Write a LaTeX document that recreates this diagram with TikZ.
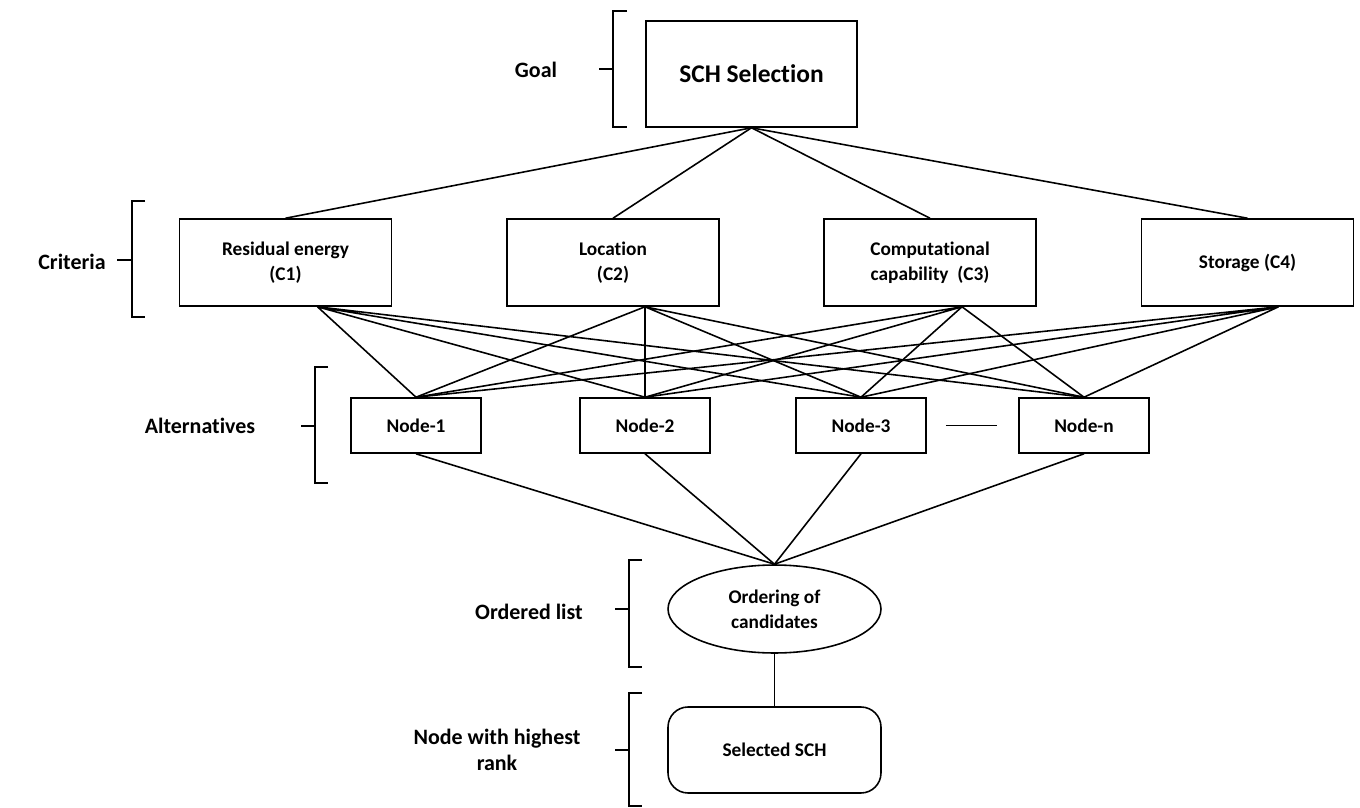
\documentclass[tikz,border=0pt]{standalone}
\usepackage{fontspec}
\setmainfont[Ligatures={NoCommon}]{Carlito}
\usetikzlibrary{shapes.geometric}
\begin{document}
\begin{tikzpicture}[
  x=0.02cm, y=-0.02cm, line width=0.9pt,
  crit/.style={draw, minimum width=4.24cm, minimum height=1.74cm, align=center, font=\bfseries\fontsize{11}{14}\selectfont},
  alt/.style={draw, minimum width=2.6cm, minimum height=1.1cm, font=\bfseries\fontsize{11}{14}\selectfont},
  lvl/.style={align=center, font=\bfseries\fontsize{12.5}{15}\selectfont}
]
\useasboundingbox (0,0) rectangle (1360,808);
% level labels
\node[lvl] (lgoal) at (536,70)  {Goal};
\node[lvl] (lcrit) at (72,262)  {Criteria};
\node[lvl] (lalt)  at (200,426) {Alternatives};
\node[lvl] (lord)  at (529,612) {Ordered list};
\node[lvl] (lsel)  at (497,750) {Node with highest\\rank};
% brackets
\draw (627,11) -| (613,127) -- (627,127);  \draw (599,69) -- (613,69);
\draw (145,201) -| (132,317) -- (145,317); \draw (117,260) -- (132,260);
\draw (328,367) -| (315,483) -- (328,483); \draw (301,426) -- (315,426);
\draw (642,560) -| (629,667) -- (642,667); \draw (615,609) -- (629,609);
\draw (642,693) -| (629,806) -- (642,806); \draw (615,750) -- (629,750);
% goal and criteria
\node[draw, minimum width=4.22cm, minimum height=2.12cm, font=\bfseries\fontsize{14.5}{17}\selectfont] (goal) at (751.5,74) {SCH Selection};
\node[crit] (c1) at (285.5,262.5) {Residual energy\\(C1)};
\node[crit] (c2) at (613,262.5)   {Location\\(C2)};
\node[crit] (c3) at (930,262.5)   {Computational\\capability~~(C3)};
\node[crit] (c4) at (1247.5,262.5) {Storage (C4)};
\draw (goal.south) -- (c1.north);
\draw (goal.south) -- (c2.north);
\draw (goal.south) -- (c3.north);
\draw (goal.south) -- (c4.north);
% alternatives
\node[alt] (n1) at (416,425.5)  {Node-1};
\node[alt] (n2) at (645,425.5)  {Node-2};
\node[alt] (n3) at (861,425.5)  {Node-3};
\node[alt] (nn) at (1084,425.5) {Node-n};
\draw ([xshift=0.38cm]n3.east) -- ([xshift=-0.42cm]nn.west);
\coordinate (c1b) at ([xshift=0.64cm]c1.south);
\coordinate (c2b) at ([xshift=0.64cm]c2.south);
\coordinate (c3b) at ([xshift=0.64cm]c3.south);
\coordinate (c4b) at ([xshift=0.62cm]c4.south);
\draw (c1b) -- (n1.north) (c1b) -- (n2.north) (c1b) -- (n3.north) (c1b) -- (nn.north);
\draw (c2b) -- (n1.north) (c2b) -- (n2.north) (c2b) -- (n3.north) (c2b) -- (nn.north);
\draw (c3b) -- (n1.north) (c3b) -- (n2.north) (c3b) -- (n3.north) (c3b) -- (nn.north);
\draw (c4b) -- (n1.north) (c4b) -- (n2.north) (c4b) -- (n3.north) (c4b) -- (nn.north);
% ordering and selection
\node[draw, ellipse, inner sep=0pt, minimum width=4.26cm, minimum height=1.76cm, align=center, font=\bfseries\fontsize{11}{14}\selectfont] (ord) at (774.5,609) {Ordering of\\candidates};
\node[draw, rounded corners=0.4cm, minimum width=4.26cm, minimum height=1.72cm, font=\bfseries\fontsize{11}{14}\selectfont] (sel) at (774.5,750) {Selected SCH};
\draw (n1.south) -- (ord.north);
\draw (n2.south) -- (ord.north);
\draw (n3.south) -- (ord.north);
\draw (nn.south) -- (ord.north);
\draw (ord) -- (sel);
\end{tikzpicture}
\end{document}
